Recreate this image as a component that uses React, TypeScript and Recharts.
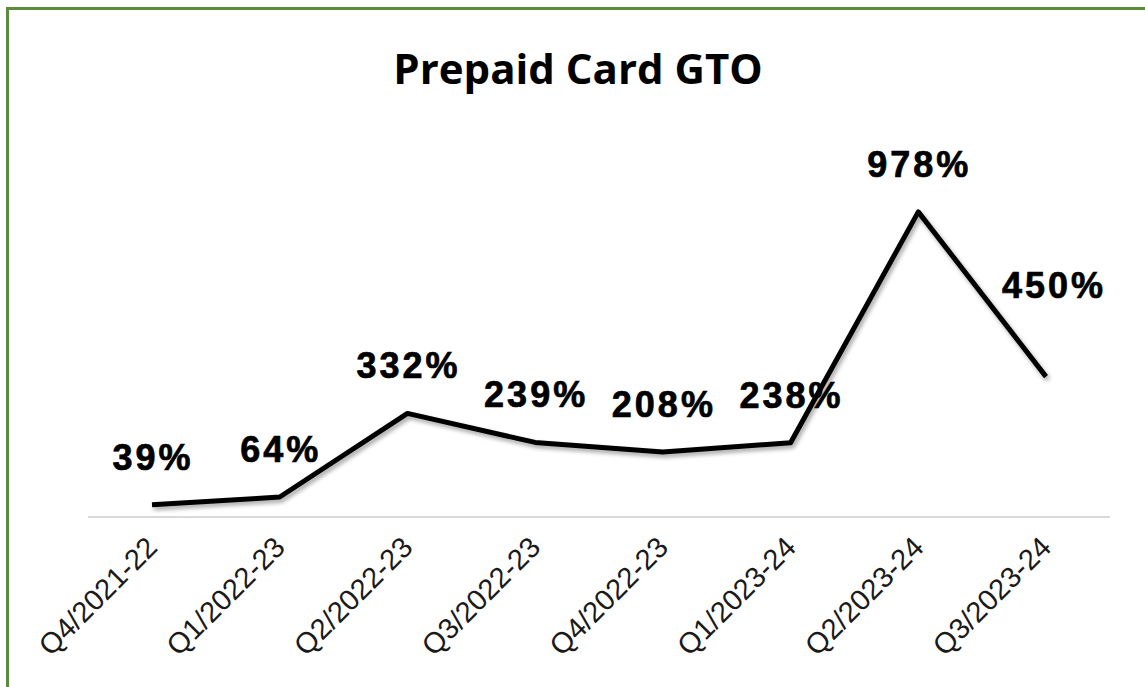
import { LabelList, Line, LineChart, XAxis, YAxis } from "recharts";

const quarters = [
  "Q4/2021-22",
  "Q1/2022-23",
  "Q2/2022-23",
  "Q3/2022-23",
  "Q4/2022-23",
  "Q1/2023-24",
  "Q2/2023-24",
  "Q3/2023-24",
];
const gtoGrowth = [39, 64, 332, 239, 208, 238, 978, 450];
const yDomain = [0, 1000];

const data = quarters.map((quarter, i) => ({ quarter, growth: gtoGrowth[i] }));

function GrowthLabel(props: any) {
  const { x, y, value, index } = props;
  // last label sits higher and a bit to the right in the original
  const last = index === gtoGrowth.length - 1;
  return (
    <text
      x={x + (last ? 8 : 1)}
      y={y - (last ? 79 : 35)}
      textAnchor="middle"
      fontFamily="'Liberation Sans', Arial, sans-serif"
      fontWeight={700}
      fontSize={36}
      letterSpacing={3}
      stroke="#000"
      strokeWidth={0.7}
      fill="#000"
    >
      {value}%
    </text>
  );
}

function QuarterTick(props: any) {
  const { x, y, payload } = props;
  return (
    <text
      transform={`translate(${x + 7},${y + 32}) rotate(-45)`}
      textAnchor="end"
      fontFamily="'Liberation Sans', Arial, sans-serif"
      fontSize={29}
      fill="#1a1a1a"
    >
      {payload.value}
    </text>
  );
}

export default function App() {
  return (
    <div style={{ position: "fixed", inset: 0, overflow: "hidden", background: "#fff" }}>
      <style>{`.gto-line path { filter: drop-shadow(2px 3px 2px rgba(0,0,0,0.35)); }`}</style>
      <div
        style={{
          position: "absolute",
          left: 6,
          top: 7,
          width: 1200,
          height: 800,
          border: "3px solid #5a8c3c",
          boxSizing: "border-box",
        }}
      />
      <div
        style={{
          position: "absolute",
          left: 0,
          top: 47,
          width: 1156,
          textAlign: "center",
          fontFamily: "'Open Sans', sans-serif",
          fontWeight: 700,
          fontSize: 42,
          lineHeight: 1,
          color: "#000",
        }}
      >
        Prepaid Card GTO
      </div>
      <div style={{ position: "absolute", left: 0, top: 0 }}>
        <LineChart
          width={1145}
          height={687}
          data={data}
          margin={{ top: 205, right: 35, bottom: 0, left: 88 }}
        >
          <XAxis
            dataKey="quarter"
            height={170}
            interval={0}
            tickLine={false}
            tickSize={0}
            tickMargin={0}
            axisLine={{ stroke: "#d9d9d9", strokeWidth: 2 }}
            padding={{ left: 64, right: 64 }}
            tick={<QuarterTick />}
          />
          <YAxis hide domain={yDomain} />
          <Line
            className="gto-line"
            type="linear"
            dataKey="growth"
            stroke="#000"
            strokeWidth={5}
            strokeLinejoin="round"
            dot={false}
            isAnimationActive={false}
          >
            <LabelList dataKey="growth" content={<GrowthLabel />} />
          </Line>
        </LineChart>
      </div>
    </div>
  );
}
